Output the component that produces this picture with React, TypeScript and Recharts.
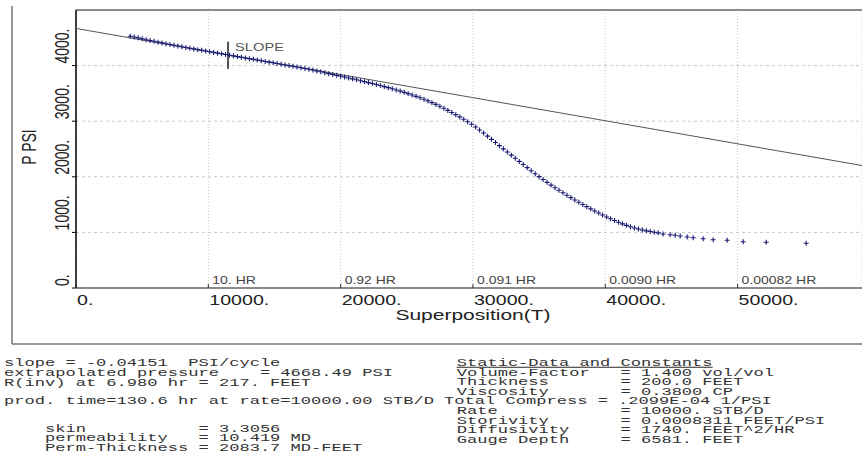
import React from "react";
import { ScatterChart, Scatter, XAxis, YAxis, CartesianGrid, ReferenceLine } from "recharts";

// superposition time (x) and shut-in pressure (y)
const superpositionT = [
  4100, 4400, 4700, 5000, 5300, 5600, 5900, 6200, 6500, 6800,
  7100, 7400, 7700, 8000, 8300, 8600, 8900, 9200, 9500, 9800,
  10100, 10400, 10700, 11000, 11300, 11600, 11900, 12200, 12500, 12800,
  13100, 13400, 13700, 14000, 14300, 14600, 14900, 15200, 15500, 15800,
  16100, 16400, 16700, 17000, 17300, 17600, 17900, 18200, 18500, 18800,
  19100, 19400, 19700, 20000, 20300, 20600, 20900, 21200, 21500, 21800,
  22100, 22400, 22700, 23000, 23300, 23600, 23900, 24200, 24500, 24800,
  25100, 25400, 25700, 26000, 26300, 26600, 26900, 27200, 27500, 27800,
  28100, 28400, 28700, 29000, 29300, 29600, 29900, 30200, 30500, 30800,
  31100, 31400, 31700, 32000, 32300, 32600, 32900, 33200, 33500, 33800,
  34100, 34400, 34700, 35000, 35300, 35600, 35900, 36200, 36500, 36800,
  37100, 37400, 37700, 38000, 38300, 38600, 38900, 39200, 39500, 39800,
  40100, 40400, 40700, 41000, 41300, 41600, 41900, 42200, 42500, 42800,
  43100, 43400, 43700, 44000, 44370, 44900, 45280, 45660, 46190, 46640,
  47400, 48150, 49210, 50420, 52160, 55180,
];
const pressurePsi = [
  4528, 4514, 4499, 4481, 4466, 4451, 4437, 4422, 4408, 4393,
  4380, 4366, 4353, 4339, 4326, 4313, 4300, 4287, 4274, 4262,
  4249, 4237, 4224, 4212, 4199, 4187, 4175, 4162, 4150, 4137,
  4125, 4112, 4100, 4087, 4075, 4062, 4050, 4038, 4025, 4012,
  4000, 3987, 3974, 3961, 3948, 3935, 3920, 3905, 3889, 3872,
  3855, 3840, 3825, 3810, 3794, 3778, 3762, 3745, 3728, 3711,
  3694, 3677, 3659, 3641, 3622, 3603, 3583, 3562, 3541, 3519,
  3496, 3472, 3447, 3421, 3394, 3365, 3334, 3302, 3268, 3232,
  3194, 3157, 3118, 3077, 3035, 2991, 2945, 2895, 2842, 2787,
  2731, 2674, 2617, 2560, 2503, 2446, 2389, 2333, 2277, 2221,
  2165, 2110, 2056, 2003, 1951, 1900, 1851, 1804, 1758, 1713,
  1669, 1626, 1584, 1543, 1503, 1463, 1424, 1386, 1349, 1313,
  1278, 1245, 1213, 1183, 1154, 1127, 1101, 1079, 1060, 1043,
  1028, 1015, 1003, 992, 971, 959, 948, 935, 917, 905,
  887, 869, 858, 833, 822, 804,
];

// semilog straight line: p* = 4668.49, slope -0.04151
const slopeLineT = [0, 59400];
const slopeLineP = [4668.49, 2203.0];

const xTicks = [0, 10000, 20000, 30000, 40000, 50000];
const xTickLabels = ["0.", "10000.", "20000.", "30000.", "40000.", "50000."];
const yTicks = [0, 1000, 2000, 3000, 4000];
const yTickLabels = ["0.", "1000.", "2000.", "3000.", "4000."];
const hourTicks = [10000, 20000, 30000, 40000, 50000];
const hourLabels = ["10. HR", "0.92 HR", "0.091 HR", "0.0090 HR", "0.00082 HR"];
const slopeMarkT = 11490;
const slopeMarkP = [3940, 4430];

const leftLines = [
  { text: "slope = -0.04151  PSI/cycle", y: 366 },
  { text: "extrapolated pressure    = 4668.49 PSI", y: 375.5 },
  { text: "R(inv) at 6.980 hr = 217. FEET", y: 385.5 },
  { text: "prod. time=130.6 hr at rate=10000.00 STB/D Total Compress = .2099E-04 1/PSI", y: 404 },
  { text: "    skin           = 3.3056", y: 431.5 },
  { text: "    permeability   = 10.419 MD", y: 441 },
  { text: "    Perm-Thickness = 2083.7 MD-FEET", y: 450.5 },
];
const rightLines = [
  { text: "Volume-Factor   = 1.400 vol/vol", y: 375.5 },
  { text: "Thickness       = 200.0 FEET", y: 385.2 },
  { text: "Viscosity       = 0.3800 CP", y: 394.8 },
  { text: "Rate            = 10000. STB/D", y: 414 },
  { text: "Storivity       = 0.0008311 FEET/PSI", y: 423.6 },
  { text: "Diffusivity     = 1740. FEET^2/HR", y: 433.2 },
  { text: "Gauge Depth     = 6581. FEET", y: 442.8 },
];

const SANS = "'Liberation Sans', Arial, sans-serif";
const MONO = "'Liberation Mono', 'Courier New', monospace";
const SX = 1.4; // the picture is stretched sideways
const MONO_SIZE = 10.5;
const MONO_SX = 1.627;

const points = superpositionT.map((t, i) => ({ t, p: pressurePsi[i] }));
const slopeLine = slopeLineT.map((t, i) => ({ t, p: slopeLineP[i] }));

const Plus = (props: any) => {
  const { cx, cy } = props;
  if (cx == null || cy == null) return <g />;
  return (
    <path
      d={`M${cx - 2.5},${cy}h5M${cx},${cy - 2.5}v5`}
      stroke="#1a1a72"
      strokeWidth={1.1}
      fill="none"
    />
  );
};

const XTick = (props: any) => {
  const { x, y, payload } = props;
  const i = xTicks.indexOf(payload.value);
  return (
    <g>
      <line x1={x} x2={x} y1={y} y2={y - 4} stroke="#333" />
      <text
        transform={`translate(${x + 1},${y + 17}) scale(${SX},1)`}
        fontSize={14}
        fontFamily={SANS}
        fill="#222"
      >
        {xTickLabels[i]}
      </text>
    </g>
  );
};

const YTick = (props: any) => {
  const { x, y, payload } = props;
  const i = yTicks.indexOf(payload.value);
  return (
    <text
      transform={`translate(${x - 3},${y - 2}) scale(${SX},1) rotate(-90)`}
      fontSize={14}
      fontFamily={SANS}
      fill="#222"
    >
      {yTickLabels[i]}
    </text>
  );
};

const XLabel = () => (
  <text
    transform={`translate(473,320) scale(${SX},1)`}
    textAnchor="middle"
    fontSize={15}
    fontFamily={SANS}
    fill="#222"
  >
    Superposition(T)
  </text>
);

const YLabel = () => (
  <text
    transform={`translate(36,147) scale(${SX},1) rotate(-90)`}
    textAnchor="middle"
    fontSize={14}
    fontFamily={SANS}
    fill="#222"
  >
    P PSI
  </text>
);

const HourLabel = ({ viewBox, text }: any) => {
  if (!viewBox) return null;
  return (
    <text
      transform={`translate(${viewBox.x + 4},${viewBox.y + viewBox.height - 4}) scale(${SX},1)`}
      fontSize={10}
      fontFamily={SANS}
      fill="#444"
    >
      {text}
    </text>
  );
};

const SlopeLabel = ({ viewBox }: any) => {
  if (!viewBox) return null;
  return (
    <text
      transform={`translate(${viewBox.x + 7},${viewBox.y + 9}) scale(${SX},1)`}
      fontSize={10.5}
      fontFamily={SANS}
      fill="#555"
    >
      SLOPE
    </text>
  );
};

const MonoLine = ({ x, y, text, underline }: any) => (
  <text
    transform={`translate(${x},${y}) scale(${MONO_SX},1)`}
    fontSize={MONO_SIZE}
    fontFamily={MONO}
    fill="#333"
    style={{ whiteSpace: "pre" }}
    textDecoration={underline ? "underline" : undefined}
  >
    {text}
  </text>
);

export default function App() {
  return (
    <div
      style={{
        position: "fixed",
        left: 0,
        top: 0,
        width: 862,
        height: 457,
        background: "#fff",
        overflow: "hidden",
      }}
    >
      <ScatterChart
        width={862}
        height={340}
        margin={{ top: 10, right: 0, left: 10, bottom: 12 }}
      >
        <CartesianGrid horizontal={false} stroke="#c4c4c4" strokeDasharray="1 2" />
        <CartesianGrid vertical={false} stroke="#c8c8c8" strokeDasharray="3 3" />
        <XAxis
          type="number"
          dataKey="t"
          domain={[0, 59400]}
          ticks={xTicks}
          allowDataOverflow
          height={40}
          tickSize={0}
          tickMargin={0}
          tickLine={false}
          axisLine={{ stroke: "#8a8a8a", strokeWidth: 2 }}
          tick={<XTick />}
          label={<XLabel />}
        />
        <YAxis
          type="number"
          dataKey="p"
          domain={[0, 5000]}
          ticks={yTicks}
          allowDataOverflow
          width={66}
          tickSize={4}
          tickMargin={0}
          tickLine={{ stroke: "#000" }}
          axisLine={{ stroke: "#000", strokeWidth: 1.5 }}
          tick={<YTick />}
          label={<YLabel />}
        />
        <ReferenceLine y={5000} stroke="#8a8a8a" strokeWidth={2} />
        {hourTicks.map((t, i) => (
          <ReferenceLine
            key={t}
            x={t}
            stroke="none"
            label={<HourLabel text={hourLabels[i]} />}
          />
        ))}
        <ReferenceLine
          segment={[
            { x: slopeMarkT, y: slopeMarkP[0] },
            { x: slopeMarkT, y: slopeMarkP[1] },
          ]}
          stroke="#555"
          strokeWidth={2}
          label={<SlopeLabel />}
        />
        <Scatter
          data={slopeLine}
          line={{ stroke: "#555", strokeWidth: 1 }}
          shape={() => <g />}
          isAnimationActive={false}
        />
        <Scatter data={points} shape={<Plus />} isAnimationActive={false} />
      </ScatterChart>

      <svg
        width={862}
        height={457}
        style={{ position: "absolute", left: 0, top: 0, pointerEvents: "none" }}
      >
        <line x1={12} y1={6} x2={12} y2={344} stroke="#777" strokeWidth={1.5} />
        <line x1={12} y1={344} x2={862} y2={344} stroke="#777" strokeWidth={1.5} />
        {leftLines.map((l) => (
          <MonoLine key={l.text} x={4} y={l.y} text={l.text} />
        ))}
        <MonoLine x={456.7} y={366} text="Static-Data and Constants" underline />
        {rightLines.map((l) => (
          <MonoLine key={l.text} x={456.7} y={l.y} text={l.text} />
        ))}
      </svg>
    </div>
  );
}
